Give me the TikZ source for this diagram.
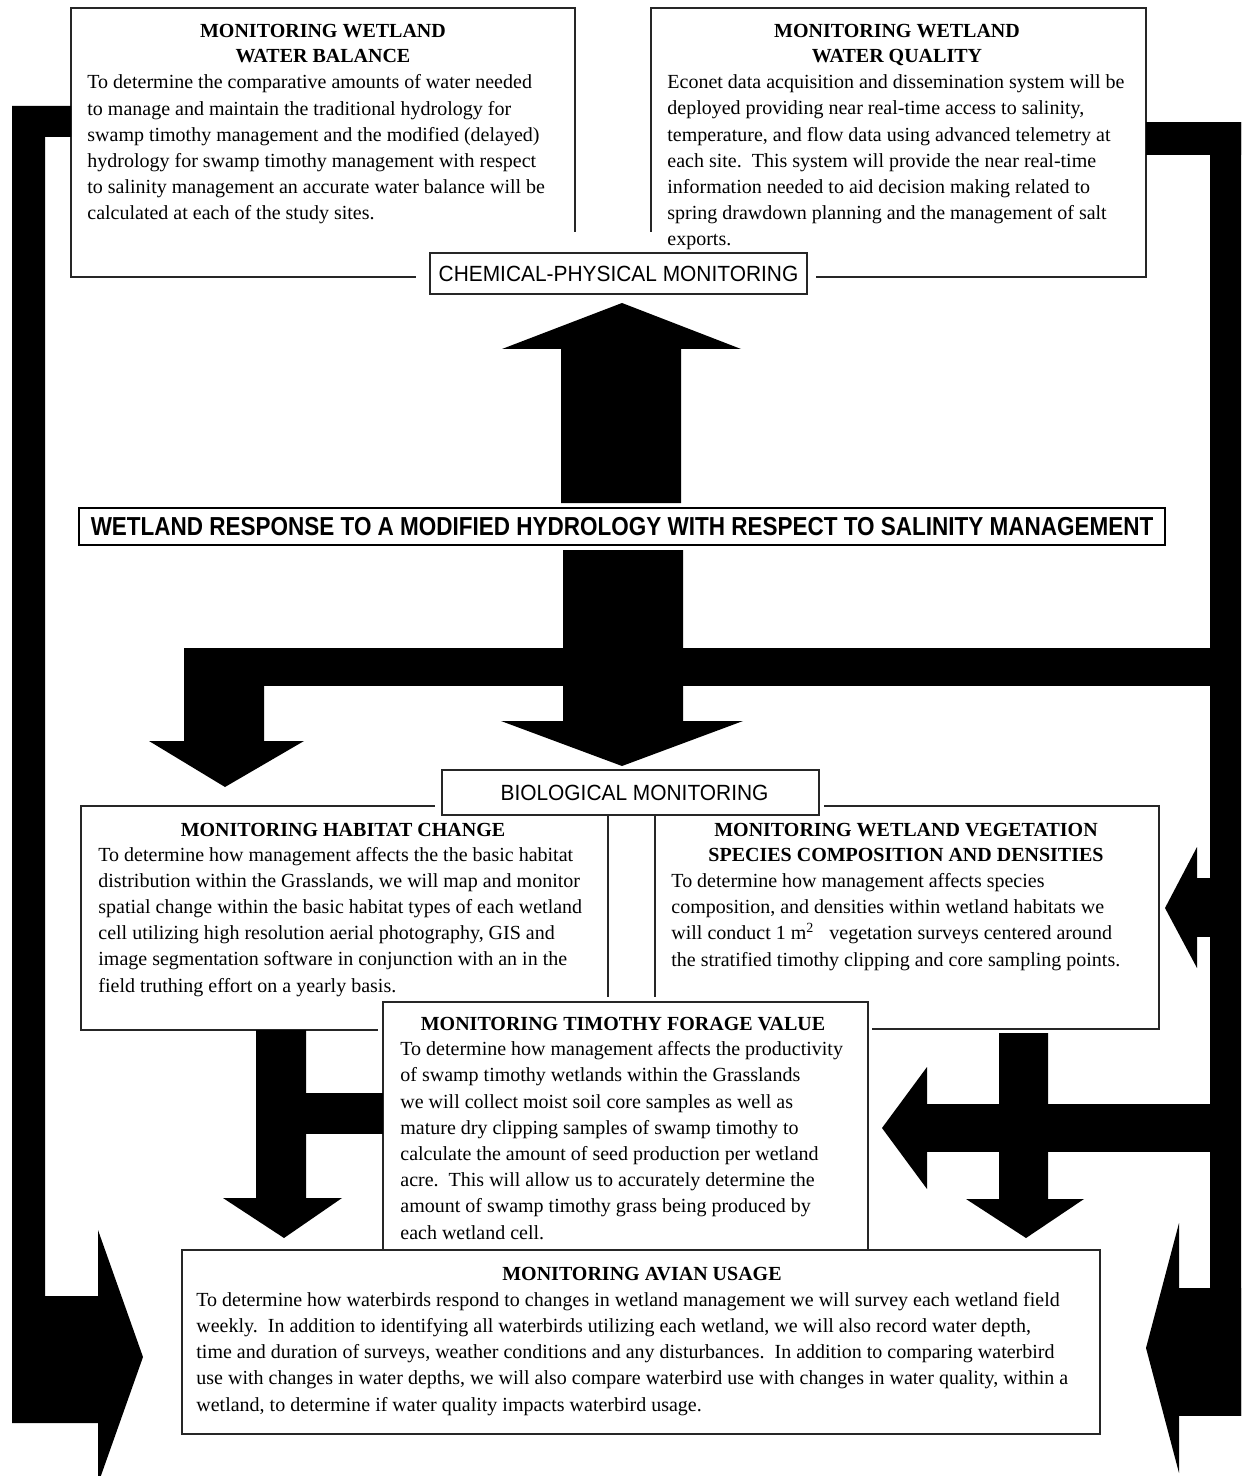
\documentclass[tikz,border=0pt]{standalone}
\usepackage{fontspec}
\setmainfont{Liberation Serif}
\newfontfamily\tagsans{Liberation Sans}[FakeStretch=0.95]
\newfontfamily\headsans{Liberation Sans}[FakeStretch=0.865]
\usetikzlibrary{fit,calc}

\tikzset{
  panel/.style={draw=black!85, line width=0.9pt, fill=white, inner sep=0pt},
  tagbox/.style={draw=black!85, line width=0.9pt, fill=white, inner sep=0pt},
  headbox/.style={draw=black, line width=1pt, fill=white, inner sep=0pt},
  tagtext/.style={inner sep=0pt, anchor=center, font=\tagsans\fontsize{11pt}{13pt}\selectfont},
  headtext/.style={inner sep=0pt, anchor=center, font=\headsans\bfseries\fontsize{13pt}{15pt}\selectfont},
  clearance/.style={fill=white},
  blockarrow/.style={fill=black},
  % multi-line nodes are placed by the baseline of their last line
  heading/.style={font=\bfseries\fontsize{10pt}{12.5pt}\selectfont, align=center, inner sep=0pt, anchor=base},
  bodytext/.style={font=\fontsize{10pt}{13.1pt}\selectfont, align=left, inner sep=0pt, anchor=base west},
}

\begin{document}
\begin{tikzpicture}[x=0.5pt, y=-0.5pt]
\useasboundingbox (0,0) rectangle (1241,1476);
\clip (0,0) rectangle (1241,1476);

% ---------- monitoring panels ----------
\node[panel, fit={(71,8) (575,277)}] (wb) {};
\node[panel, fit={(651,8) (1146,277)}] (wq) {};
\node[panel, fit={(81,806) (608,1030)}] (hab) {};
\node[panel, fit={(655,806) (1159,1029)}] (veg) {};
\fill[clearance] (378,997) rectangle (872,1255);
\node[panel, fit={(383,1002) (868,1250)}] (tim) {};
\node[panel, fit={(182,1250) (1100,1434)}] (avian) {};

% ---------- section tags ----------
\fill[clearance] (416,232) rectangle (816,300);
\node[tagbox, fit={(430,253) (807,294)}] (chem) {};
\node[tagtext] (chemt) at (chem.center) {CHEMICAL-PHYSICAL MONITORING};
\fill[clearance] (435,762) rectangle (824,815);
\node[tagbox, fit={(442,770) (819,815)}] (bio) {};
\node[tagtext] (biot) at ($(bio.center)+(4,0)$) {BIOLOGICAL MONITORING};
\node[headbox, fit={(79,508) (1165,545)}] (resp) {};
\node[headtext] (respt) at (resp.center)
  {WETLAND RESPONSE TO A MODIFIED HYDROLOGY WITH RESPECT TO SALINITY MANAGEMENT};

% ---------- block arrows ----------
% response -> chemical-physical monitoring
\fill[blockarrow] (561,503) -- (681,503) -- (681,349) -- (741,349) -- (622,303)
  -- (502,349) -- (561,349) -- cycle;
% response -> biological monitoring
\fill[blockarrow] (563,550) -- (683,550) -- (683,721) -- (743,721) -- (622,766)
  -- (501,721) -- (563,721) -- cycle;
% cross bar feeding the habitat arrow from the right-hand return line
\fill[blockarrow] (184,648) rectangle (1210,686);
\fill[blockarrow] (184,648) -- (264,648) -- (264,741) -- (304,741) -- (225,787)
  -- (149,741) -- (184,741) -- cycle;
% right-hand return line from water quality
\fill[blockarrow] (1146,122) rectangle (1250,155);
\fill[blockarrow] (1210,122) rectangle (1250,1416);
% right line -> vegetation
\fill[blockarrow] (1196,878) rectangle (1211,937);
\fill[blockarrow] (1197,847) -- (1165,908) -- (1197,968) -- cycle;
% right line -> timothy forage value
\fill[blockarrow] (926,1104) rectangle (1211,1152);
\fill[blockarrow] (927,1067) -- (882,1128) -- (927,1189) -- cycle;
% vegetation -> avian usage
\fill[blockarrow] (999,1033) -- (1048,1033) -- (1048,1199) -- (1084,1199) -- (1026,1238)
  -- (966,1199) -- (999,1199) -- cycle;
% habitat -> avian usage, joined by timothy forage value
\fill[blockarrow] (256,1030) -- (306,1030) -- (306,1198) -- (342,1198) -- (284,1238)
  -- (223,1198) -- (256,1198) -- cycle;
\fill[blockarrow] (305,1093) rectangle (383,1134);
% right line -> avian usage
\fill[blockarrow] (1178,1288) rectangle (1250,1416);
\fill[blockarrow] (1179,1223) -- (1146,1348) -- (1179,1473) -- cycle;
% left-hand return line from water balance -> avian usage
\fill[blockarrow] (12,106) -- (71,106) -- (71,137) -- (45,137) -- (45,1296) -- (99,1296)
  -- (99,1423) -- (12,1423) -- cycle;
\fill[blockarrow] (98,1230) -- (143,1357) -- (98,1484) -- cycle;

% ---------- panel texts ----------
\node[heading] (wbh) at (323,63) {MONITORING WETLAND\\WATER BALANCE};
\node[bodytext] (wbt) at (87,220) {To determine the comparative amounts of water needed\\
to manage and maintain the traditional hydrology for\\
swamp timothy management and the modified (delayed)\\
hydrology for swamp timothy management with respect\\
to salinity management an accurate water balance will be\\
calculated at each of the study sites.};

\node[heading] (wqh) at (897,63) {MONITORING WETLAND\\WATER QUALITY};
\node[bodytext] (wqt) at (667,246) {Econet data acquisition and dissemination system will be\\
deployed providing near real-time access to salinity,\\
temperature, and flow data using advanced telemetry at\\
each site.\ \ This system will provide the near real-time\\
information needed to aid decision making related to\\
spring drawdown planning and the management of salt\\
exports.};

\node[heading] (habh) at (343,836) {MONITORING HABITAT CHANGE};
\node[bodytext] (habt) at (98,992) {To determine how management affects the the basic habitat\\
distribution within the Grasslands, we will map and monitor\\
spatial change within the basic habitat types of each wetland\\
cell utilizing high resolution aerial photography, GIS and\\
image segmentation software in conjunction with an in the\\
field truthing effort on a yearly basis.};

\node[heading] (vegh) at (906,861) {MONITORING WETLAND VEGETATION\\SPECIES COMPOSITION AND DENSITIES};
\node[bodytext] (vegt) at (671,966) {To determine how management affects species\\
composition, and densities within wetland habitats we\\
will conduct 1 m\textsuperscript{2}\ \ \ vegetation surveys centered around\\
the stratified timothy clipping and core sampling points.};

\node[heading] (timh) at (623,1030) {MONITORING TIMOTHY FORAGE VALUE};
\node[bodytext] (timt) at (400,1239) {To determine how management affects the productivity\\
of swamp timothy wetlands within the Grasslands\\
we will collect moist soil core samples as well as\\
mature dry clipping samples of swamp timothy to\\
calculate the amount of seed production per wetland\\
acre.\ \ This will allow us to accurately determine the\\
amount of swamp timothy grass being produced by\\
each wetland cell.};

\node[heading] (avianh) at (642,1280) {MONITORING AVIAN USAGE};
\node[bodytext] (aviant) at (196,1411) {To determine how waterbirds respond to changes in wetland management we will survey each wetland field\\
weekly.\ \ In addition to identifying all waterbirds utilizing each wetland, we will also record water depth,\\
time and duration of surveys, weather conditions and any disturbances.\ \ In addition to comparing waterbird\\
use with changes in water depths, we will also compare waterbird use with changes in water quality, within a\\
wetland, to determine if water quality impacts waterbird usage.};
\end{tikzpicture}
\end{document}
